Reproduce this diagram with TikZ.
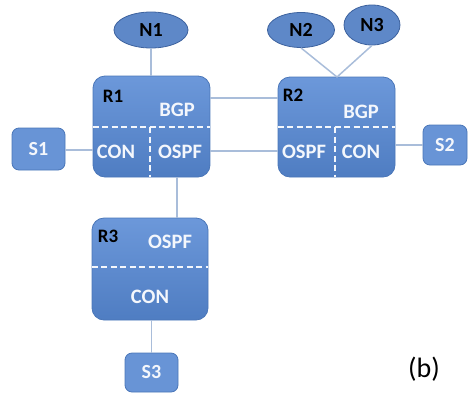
\documentclass[tikz,border=0pt]{standalone}
\usepackage{fontspec}
\setmainfont{Carlito}
\usetikzlibrary{calc,shapes.geometric}
\definecolor{boxtop}{HTML}{6C98DA}
\definecolor{boxbot}{HTML}{4F7DC2}
\definecolor{boxedge}{HTML}{4A76B8}
\definecolor{ellfill}{HTML}{5E88C8}
\definecolor{elledge}{HTML}{3D629E}
\definecolor{linkcol}{HTML}{A9BDDA}
\definecolor{txtw}{HTML}{F4F7FC}
\tikzset{
  router/.style={draw=boxedge, line width=0.8pt, rounded corners=12pt,
    top color=boxtop, bottom color=boxbot, inner sep=0pt},
  server/.style={draw=boxedge, line width=0.8pt, rounded corners=7pt,
    fill=boxtop!85!boxbot, inner sep=0pt, text=txtw,
    font=\bfseries\fontsize{20}{21}\selectfont},
  net/.style={ellipse, draw=elledge, line width=0.8pt, fill=ellfill,
    inner sep=0pt, font=\bfseries\fontsize{20}{21}\selectfont},
  link/.style={draw=linkcol, line width=1.5pt},
  split/.style={draw=txtw, line width=1.6pt, dash pattern=on 6pt off 3.5pt},
  proto/.style={text=txtw, font=\bfseries\fontsize{20.5}{22}\selectfont, inner sep=0pt},
  rname/.style={text=black, font=\bfseries\fontsize{19}{20}\selectfont, inner sep=0pt},
}
\begin{document}
\begin{tikzpicture}[x=1pt, y=-1pt]
\useasboundingbox (0,0) rectangle (470,394);

% networks
\node[net, minimum width=74pt, minimum height=36pt] (N1) at (151,30) {N1};
\node[net, minimum width=67pt, minimum height=35pt] (N2) at (301,30) {N2};
\node[net, minimum width=56pt, minimum height=40pt] (N3) at (372,25) {N3};

% routers
\node[router, minimum width=117pt, minimum height=101pt] (R1) at (151.5,126.5) {};
\node[router, minimum width=117pt, minimum height=100pt] (R2) at (336.5,127) {};
\node[router, minimum width=116pt, minimum height=102pt] (R3) at (150,269) {};

% servers
\node[server, minimum width=53pt, minimum height=42pt] (S1) at (38.5,149) {S1};
\node[server, minimum width=44pt, minimum height=40pt] (S2) at (445,145) {S2};
\node[server, minimum width=53pt, minimum height=39pt] (S3) at (151.5,372.5) {S3};

% links
\coordinate (N2foot) at (337,77);
\draw[link] (N1.south) -- (N1.south |- R1.north);
\draw[link] (N2.south) -- (N2foot);
\draw[link] (N3.south) -- (N2foot);
\draw[link] (R1.east |- 0,98) -- (R2.west |- 0,98);
\draw[link] (R1.east |- 0,151) -- (R2.west |- 0,151);
\draw[link] (S1.east |- 0,150) -- (R1.west |- 0,150);
\draw[link] (R2.east |- S2.west) -- (S2.west);
\draw[link] (R1.south -| 177,0) -- (R3.north -| 177,0);
\draw[link] (R3.south -| S3.north) -- (S3.north);

% partitions inside the routers
\draw[split] (R1.west |- 0,127) -- (R1.east |- 0,127);
\draw[split] (150,127) -- (150,0 |- R1.south);
\draw[split] (R2.west |- 0,127) -- (R2.east |- 0,127);
\draw[split] (335,127) -- (335,0 |- R2.south);
\draw[split] (R3.west |- 0,267) -- (R3.east |- 0,267);

% labels of router 1
\node[rname] (R1name) at (113,96) {R1};
\node[proto] (R1bgp) at (177,110) {BGP};
\node[proto] (R1con) at (116,152) {CON};
\node[proto] (R1ospf) at (180,152) {OSPF};

% labels of router 2
\node[rname] (R2name) at (293,95) {R2};
\node[proto] (R2bgp) at (361,112) {BGP};
\node[proto] (R2ospf) at (304,152) {OSPF};
\node[proto] (R2con) at (361,152) {CON};

% labels of router 3
\node[rname] (R3name) at (108,236) {R3};
\node[proto] (R3ospf) at (170,242) {OSPF};
\node[proto] (R3con) at (150,297) {CON};

% panel tag
\node[font=\fontsize{28}{30}\selectfont, inner sep=0pt] (tag) at (424,369) {(b)};
\end{tikzpicture}
\end{document}
